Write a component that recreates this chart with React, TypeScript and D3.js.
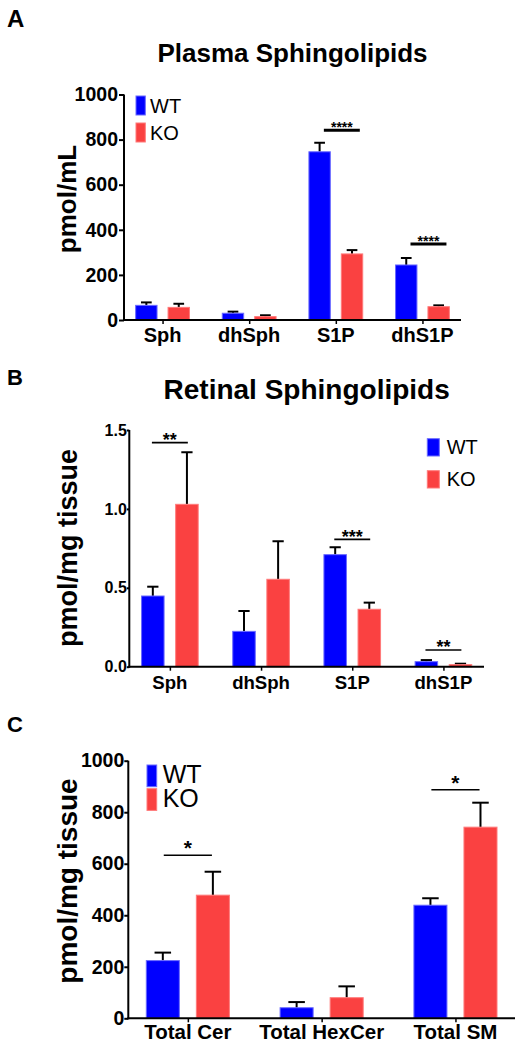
import React, { useEffect, useRef } from "react";
import * as d3 from "d3";

// ---------- DATA ----------
const groups = ["WT", "KO"];

const plasmaCategories = ["Sph", "dhSph", "S1P", "dhS1P"];
const plasmaWT = [65, 30, 746, 244];
const plasmaWTErr = [13, 7, 40, 31];
const plasmaKO = [56, 15, 293, 59];
const plasmaKOErr = [16, 6, 17, 6];
const plasmaTicks = [0, 200, 400, 600, 800, 1000];
const plasmaSig = [
  { cat: "S1P", stars: "****", y: 842 },
  { cat: "dhS1P", stars: "****", y: 337 },
];

const retinalCategories = ["Sph", "dhSph", "S1P", "dhS1P"];
const retinalWT = [0.448, 0.224, 0.71, 0.032];
const retinalWTErr = [0.059, 0.129, 0.047, 0.01];
const retinalKO = [1.029, 0.554, 0.364, 0.013];
const retinalKOErr = [0.33, 0.241, 0.042, 0.006];
const retinalTicks = [0, 0.5, 1.0, 1.5];
const retinalSig = [
  { cat: "Sph", stars: "**", y: 1.42 },
  { cat: "S1P", stars: "***", y: 0.807 },
  { cat: "dhS1P", stars: "**", y: 0.106 },
];

const totalCategories = ["Total Cer", "Total HexCer", "Total SM"];
const totalWT = [224, 41, 439];
const totalWTErr = [31, 22, 27];
const totalKO = [478, 80, 742];
const totalKOErr = [91, 44, 95];
const totalTicks = [0, 200, 400, 600, 800, 1000];
const totalSig = [
  { cat: "Total Cer", stars: "*", y: 633 },
  { cat: "Total SM", stars: "*", y: 887 },
];

// ---------- STYLE ----------
const FONT = "'Liberation Sans', Arial, Helvetica, sans-serif";
const COLORS: Record<string, string> = { WT: "#0000ff", KO: "#fa4141" };
const EDGES: Record<string, string> = { WT: "#6a6aff", KO: "#ff7a7a" };

type Panel = {
  letter: string;
  letterY: number;
  letterSize: number;
  title?: string;
  titleY?: number;
  titleSize?: number;
  categories: string[];
  wt: number[];
  wtErr: number[];
  ko: number[];
  koErr: number[];
  ticks: number[];
  tickFmt: (v: number) => string;
  domain: [number, number];
  x0: number;
  x1: number;
  yBottom: number;
  yTop: number;
  tickSize: number;
  tickPad: number;
  tickFont: number;
  yLabel: string;
  yLabelX: number;
  yLabelY: number;
  yLabelSize: number;
  catFont: number;
  catBaseline: number;
  legend: { x: number; y: number; w: number; h: number; gap: number; textX: number; textDy: number; size: number };
  sig: { cat: string; stars: string; y: number }[];
  sigL: number;
  sigR: number;
  sigWidth: number;
  starSize: number;
  starOffset: number;
};

const panels: Panel[] = [
  {
    letter: "A", letterY: 27, letterSize: 24,
    title: "Plasma Sphingolipids", titleY: 62, titleSize: 26,
    categories: plasmaCategories, wt: plasmaWT, wtErr: plasmaWTErr, ko: plasmaKO, koErr: plasmaKOErr,
    ticks: plasmaTicks, tickFmt: d3.format("d"), domain: [0, 1000],
    x0: 124, x1: 461, yBottom: 320, yTop: 94.5,
    tickSize: 5, tickPad: 1, tickFont: 19.5,
    yLabel: "pmol/mL", yLabelX: 76, yLabelY: 199, yLabelSize: 26,
    catFont: 20, catBaseline: 341.7,
    legend: { x: 136, y: 96, w: 9.3, h: 19, gap: 27, textX: 150, textDy: 16.7, size: 20 },
    sig: plasmaSig, sigL: -0.138, sigR: 0.277, sigWidth: 3, starSize: 14, starOffset: 2.1,
  },
  {
    letter: "B", letterY: 384.5, letterSize: 22,
    title: "Retinal Sphingolipids", titleY: 399, titleSize: 28,
    categories: retinalCategories, wt: retinalWT, wtErr: retinalWTErr, ko: retinalKO, koErr: retinalKOErr,
    ticks: retinalTicks, tickFmt: d3.format(".1f"), domain: [0, 1.5],
    x0: 129.3, x1: 484, yBottom: 666.7, yTop: 430,
    tickSize: 2.5, tickPad: 0, tickFont: 16,
    yLabel: "pmol/mg tissue", yLabelX: 77, yLabelY: 548, yLabelSize: 27,
    catFont: 18.6, catBaseline: 689.3,
    legend: { x: 427.3, y: 438.7, w: 12, h: 17.3, gap: 32, textX: 446.7, textDy: 15.6, size: 20 },
    sig: retinalSig, sigL: -0.197, sigR: 0.197, sigWidth: 1.6, starSize: 18, starOffset: 3.4,
  },
  {
    letter: "C", letterY: 732.3, letterSize: 22,
    categories: totalCategories, wt: totalWT, wtErr: totalWTErr, ko: totalKO, koErr: totalKOErr,
    ticks: totalTicks, tickFmt: d3.format("d"), domain: [0, 1000],
    x0: 128.3, x1: 515, yBottom: 1018.3, yTop: 760.7,
    tickSize: 4, tickPad: 0, tickFont: 19.5,
    yLabel: "pmol/mg tissue", yLabelX: 77, yLabelY: 881, yLabelSize: 28,
    catFont: 20.5, catBaseline: 1039.3,
    legend: { x: 147, y: 765, w: 9.7, h: 21.7, gap: 23.7, textX: 162.7, textDy: 18.3, size: 25 },
    sig: totalSig, sigL: -0.18, sigR: 0.18, sigWidth: 1.6, starSize: 21, starOffset: 0.2,
  },
];

function drawPanel(root: d3.Selection<SVGGElement, unknown, null, undefined>, p: Panel) {
  const g = root.append("g");

  // letter
  g.append("text").attr("x", 7).attr("y", p.letterY).attr("font-family", FONT)
    .attr("font-weight", "bold").attr("font-size", p.letterSize).text(p.letter);

  // title
  if (p.title) {
    g.append("text").attr("x", (p.x0 + p.x1) / 2).attr("y", p.titleY!).attr("text-anchor", "middle")
      .attr("font-family", FONT).attr("font-weight", "bold").attr("font-size", p.titleSize!).text(p.title);
  }

  const x = d3.scalePoint<string>().domain(p.categories).range([p.x0, p.x1]).padding(0.445);
  const step = x.step();
  const half = 0.3105 * step;
  const xSub = d3.scaleBand<string>().domain(groups).range([-half, half]).paddingInner(0.34);
  const bw = xSub.bandwidth();
  const y = d3.scaleLinear().domain(p.domain).range([p.yBottom, p.yTop]);

  const rows = p.categories.flatMap((c, i) => [
    { cat: c, grp: "WT", v: p.wt[i], e: p.wtErr[i] },
    { cat: c, grp: "KO", v: p.ko[i], e: p.koErr[i] },
  ]);

  // error bars (behind bars)
  const eb = g.append("g").attr("stroke", "#000").attr("stroke-width", 2);
  rows.forEach((r) => {
    const cx = x(r.cat)! + xSub(r.grp)! + bw / 2;
    eb.append("line").attr("x1", cx).attr("x2", cx).attr("y1", y(r.v)).attr("y2", y(r.v + r.e));
    eb.append("line").attr("x1", cx - bw / 4).attr("x2", cx + bw / 4).attr("y1", y(r.v + r.e)).attr("y2", y(r.v + r.e));
  });

  // bars
  g.append("g").selectAll("rect").data(rows).join("rect")
    .attr("x", (d) => x(d.cat)! + xSub(d.grp)!)
    .attr("y", (d) => y(d.v))
    .attr("width", bw)
    .attr("height", (d) => y(0) - y(d.v))
    .attr("fill", (d) => COLORS[d.grp])
    .attr("stroke", (d) => EDGES[d.grp])
    .attr("stroke-width", 1);

  // y axis
  const ya = g.append("g").attr("transform", `translate(${p.x0},0)`)
    .call(d3.axisLeft(y).tickValues(p.ticks).tickFormat((v) => p.tickFmt(v as number))
      .tickSize(p.tickSize).tickPadding(p.tickPad).tickSizeOuter(0));
  ya.select(".domain").attr("stroke-width", 2).attr("d", `M0,${p.yBottom + 1}V${p.yTop}`);
  ya.selectAll(".tick line").attr("stroke-width", 2);
  ya.selectAll("text").attr("font-family", FONT).attr("font-weight", "bold")
    .attr("font-size", p.tickFont).attr("fill", "#000");

  // x axis
  const xa = g.append("g").attr("transform", `translate(0,${p.yBottom})`)
    .call(d3.axisBottom(x).tickSize(4).tickSizeOuter(0).tickFormat(() => ""));
  xa.select(".domain").attr("stroke-width", 2).attr("d", `M${p.x0 - 1},0H${p.x1}`);
  xa.selectAll(".tick line").attr("stroke-width", 1.5);
  g.append("g").selectAll("text").data(p.categories).join("text")
    .attr("x", (d) => x(d)!).attr("y", p.catBaseline).attr("text-anchor", "middle")
    .attr("font-family", FONT).attr("font-weight", "bold").attr("font-size", p.catFont).text((d) => d);

  // y label
  g.append("text").attr("transform", `translate(${p.yLabelX},${p.yLabelY}) rotate(-90)`)
    .attr("text-anchor", "middle").attr("font-family", FONT).attr("font-weight", "bold")
    .attr("font-size", p.yLabelSize).text(p.yLabel);

  // legend
  const L = p.legend;
  groups.forEach((grp, i) => {
    g.append("rect").attr("x", L.x).attr("y", L.y + i * L.gap).attr("width", L.w).attr("height", L.h)
      .attr("fill", COLORS[grp]).attr("stroke", EDGES[grp]).attr("stroke-width", 1);
    g.append("text").attr("x", L.textX).attr("y", L.y + i * L.gap + L.textDy)
      .attr("font-family", FONT).attr("font-size", L.size).text(grp);
  });

  // significance
  p.sig.forEach((s) => {
    const cx = x(s.cat)!;
    const x1 = cx + p.sigL * step;
    const x2 = cx + p.sigR * step;
    const yy = y(s.y);
    g.append("line").attr("x1", x1).attr("x2", x2).attr("y1", yy).attr("y2", yy)
      .attr("stroke", "#000").attr("stroke-width", p.sigWidth);
    g.append("text").attr("x", (x1 + x2) / 2).attr("y", yy + p.starOffset).attr("text-anchor", "middle")
      .attr("font-family", FONT).attr("font-weight", "bold").attr("font-size", p.starSize).text(s.stars);
  });
}

export default function App() {
  const ref = useRef<SVGSVGElement>(null);
  useEffect(() => {
    const svg = d3.select(ref.current!);
    svg.selectAll("*").remove();
    const root = svg.append("g") as d3.Selection<SVGGElement, unknown, null, undefined>;
    panels.forEach((p) => drawPanel(root, p));
  }, []);
  return (
    <div style={{ position: "absolute", left: 0, top: 0 }}>
      <svg ref={ref} width={527} height={1050} style={{ display: "block", background: "#fff" }} />
    </div>
  );
}
